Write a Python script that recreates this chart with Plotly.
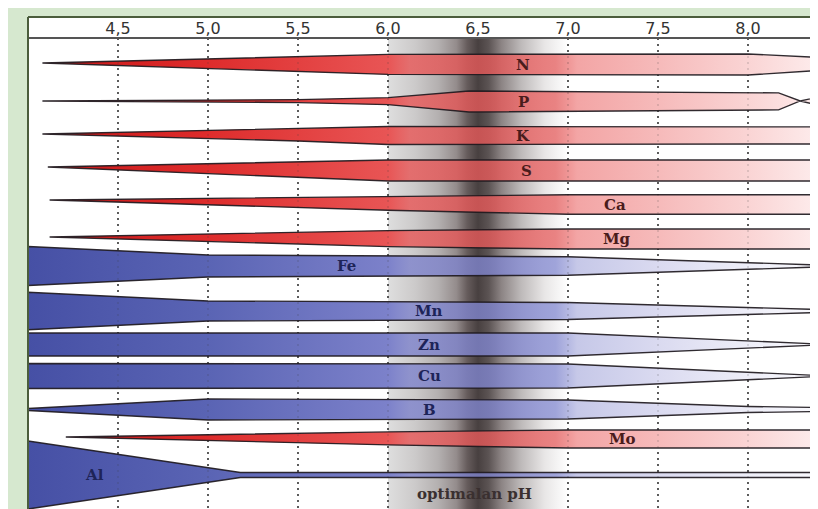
import plotly.graph_objects as go

# ---------------- data ----------------
tick_vals = [4.5, 5.0, 5.5, 6.0, 6.5, 7.0, 7.5, 8.0]
tick_text = ["4,5", "5,0", "5,5", "6,0", "6,5", "7,0", "7,5", "8,0"]
ph_min = 4.0
opt_lo, opt_hi = 6.0, 7.0
opt_label = "optimalan pH"

nutrients = ["N", "P", "K", "S", "Ca", "Mg", "Fe", "Mn", "Zn", "Cu", "B", "Mo", "Al"]
kind = ["red", "red", "red", "red", "red", "red", "blue", "blue", "blue", "blue", "blue", "red", "blue"]

# availability (band thickness) at pH breakpoints
N_ph = [4.08, 6.0, 8.0, 8.39];               N_w = [0, 20, 21, 13]
P_ph = [4.08, 5.5, 6.0, 6.45, 8.17, 8.29, 8.39]; P_w = [0, 3, 7, 21, 17, 0, 8]
K_ph = [4.08, 5.5, 6.0, 8.39];               K_w = [0, 12, 18, 17]
S_ph = [4.11, 6.0, 8.39];                    S_w = [0, 21, 21]
Ca_ph = [4.12, 6.0, 7.0, 8.39];              Ca_w = [0, 14, 19.5, 19.5]
Mg_ph = [4.12, 6.0, 7.0, 8.39];              Mg_w = [0, 16, 20, 20]
Fe_ph = [4.0, 5.0, 7.0, 8.39];               Fe_w = [39, 22, 18.5, 2]
Mn_ph = [4.0, 5.0, 7.0, 8.39];               Mn_w = [37.5, 20, 17, 3]
Zn_ph = [4.0, 7.0, 8.39];                    Zn_w = [23, 23, 1]
Cu_ph = [4.0, 7.0, 8.39];                    Cu_w = [25, 24, 1]
B_ph = [4.0, 5.0, 7.0, 8.0, 8.39];           B_w = [2, 21, 19, 6, 4]
Mo_ph = [4.21, 6.0, 7.0, 8.39];              Mo_w = [0, 13, 18, 18]
Al_ph = [4.0, 5.18, 8.39];                   Al_w = [68, 5, 5]

profiles_ph = [N_ph, P_ph, K_ph, S_ph, Ca_ph, Mg_ph, Fe_ph, Mn_ph, Zn_ph, Cu_ph, B_ph, Mo_ph, Al_ph]
profiles_w = [N_w, P_w, K_w, S_w, Ca_w, Mg_w, Fe_w, Mn_w, Zn_w, Cu_w, B_w, Mo_w, Al_w]

# ---------------- layout (positions / styles) ----------------
OFF = 8                         # page body margin compensation
W, H = 818 + OFF, 509 + OFF
PX_PER_PH = 180.0
TOP = 38                        # plot area in y units (pixels of the final picture)
plot_w = W - (28 - OFF)
plot_h = H - (TOP - OFF)
BOTTOM = TOP + plot_h
ph_max = ph_min + plot_w / PX_PER_PH
ph_edge = 8.39                  # right edge of the original picture
row_y = [64.5, 101.5, 135.5, 170.5, 204.5, 239, 266, 311, 344.5, 376, 409.5, 439, 475]
tip_y = [63, 101, 134, 167, 200, 237, 266, 311, 344.5, 376, 409.5, 437, 475]
label_ph = [6.75, 6.75, 6.75, 6.77, 7.26, 7.27, 5.77, 6.23, 6.23, 6.23, 6.23, 7.30, 4.37]


def pos(p):
    return min(1.0, (p - ph_min) / (ph_edge - ph_min))


def scale(stops):
    return [[pos(p), c] for p, c in stops]


red_scale = scale([
    (4.0, "rgba(150,20,20,1)"), (4.3, "rgba(205,28,28,1)"), (5.0, "rgba(222,44,44,1)"),
    (6.0, "rgba(232,85,85,1)"), (6.12, "rgba(232,86,86,0.8)"), (6.6, "rgba(230,90,90,0.8)"),
    (6.93, "rgba(232,118,118,0.9)"), (7.05, "rgba(243,165,165,1)"), (7.5, "rgba(246,186,186,1)"),
    (8.0, "rgba(250,212,212,1)"), (8.39, "rgba(253,236,236,1)")])
blue_scale = scale([
    (4.0, "rgba(70,80,165,1)"), (5.0, "rgba(90,100,180,1)"), (6.0, "rgba(124,129,202,1)"),
    (6.12, "rgba(126,131,204,0.8)"), (6.6, "rgba(128,133,206,0.8)"), (6.93, "rgba(150,155,215,0.9)"),
    (7.05, "rgba(198,200,232,1)"), (7.5, "rgba(218,218,240,1)"), (8.0, "rgba(238,238,248,1)"),
    (8.39, "rgba(250,250,254,1)")])
gray_scale = [
    [0.0, "rgb(222,222,222)"], [0.15, "rgb(204,202,202)"], [0.28, "rgb(180,176,176)"],
    [0.38, "rgb(148,140,140)"], [0.44, "rgb(102,92,92)"], [0.5, "rgb(72,64,64)"],
    [0.56, "rgb(92,84,84)"], [0.63, "rgb(140,132,132)"], [0.74, "rgb(190,186,186)"],
    [0.87, "rgb(232,230,230)"], [1.0, "rgb(255,255,255)"]]

fig = go.Figure()

# optimal pH band
fig.add_trace(go.Scatter(
    x=[opt_lo, opt_hi, opt_hi, opt_lo, opt_lo], y=[TOP, TOP, BOTTOM, BOTTOM, TOP],
    mode="lines", fill="toself", line=dict(width=0),
    fillgradient=dict(type="horizontal", colorscale=gray_scale, start=opt_lo, stop=opt_hi),
    hoverinfo="skip", showlegend=False))

# dotted grid lines
grid_ticks = [t for t in tick_vals if not (opt_lo < t < opt_hi)]


def add_grid(opacity):
    for t in grid_ticks:
        fig.add_trace(go.Scatter(
            x=[t, t], y=[TOP, BOTTOM], mode="lines", opacity=opacity,
            line=dict(color="#3a3a3a", width=1.6, dash="2px,4px"),
            hoverinfo="skip", showlegend=False))


add_grid(1.0)

# nutrient bands (last width held beyond the picture's right edge)
for name, k, cy, ty, ph, w in zip(nutrients, kind, row_y, tip_y, profiles_ph, profiles_w):
    phx = list(ph) + [ph_max + 0.2]
    wx = list(w) + [w[-1]]
    wmax = max(wx)
    mids = [ty + (cy - ty) * min(1.0, v / wmax) for v in wx]
    xs = phx + phx[::-1] + [phx[0]]
    ys = ([m - v / 2 for m, v in zip(mids, wx)]
          + [m + v / 2 for m, v in zip(mids[::-1], wx[::-1])]
          + [mids[0] - wx[0] / 2])
    fig.add_trace(go.Scatter(
        x=xs, y=ys, mode="lines", fill="toself",
        line=dict(color="rgba(30,25,30,0.92)", width=1.35),
        fillgradient=dict(type="horizontal",
                          colorscale=red_scale if k == "red" else blue_scale,
                          start=ph_min, stop=ph_edge),
        hoverinfo="skip", showlegend=False))

add_grid(0.18)

annotations = []
for name, k, cy, lx in zip(nutrients, kind, row_y, label_ph):
    annotations.append(dict(
        x=lx, y=cy, xref="x", yref="y", text=name, showarrow=False,
        font=dict(family="DejaVu Serif", size=15, weight="bold",
                  color="#4a1c1c" if k == "red" else "#1e2458")))
annotations.append(dict(
    x=(opt_lo + opt_hi) / 2 - 0.02, y=494, xref="x", yref="y", text=opt_label, showarrow=False,
    font=dict(family="DejaVu Serif", size=15, weight="bold", color="#3a3030")))

hdr_top = 1 + (TOP - 17) / plot_h
shapes = [
    dict(type="rect", xref="paper", yref="paper", x0=0, x1=1, y0=1, y1=hdr_top,
         fillcolor="white", line=dict(width=0), layer="below"),
    dict(type="line", xref="paper", yref="paper", x0=0, x1=1, y0=1, y1=1,
         line=dict(color="#555555", width=2), layer="above"),
    dict(type="line", xref="paper", yref="paper", x0=0, x1=1, y0=hdr_top, y1=hdr_top,
         line=dict(color="#4b5d3c", width=2), layer="above"),
    dict(type="line", xref="paper", yref="paper", x0=0, x1=0, y0=0, y1=hdr_top,
         line=dict(color="#4b5d3c", width=2), layer="above"),
]

fig.update_layout(
    width=W, height=H, margin=dict(l=28 - OFF, r=0, t=TOP - OFF, b=0),
    paper_bgcolor="#d6e8cf", plot_bgcolor="white",
    xaxis=dict(range=[ph_min, ph_max], side="top", tickvals=tick_vals, ticktext=tick_text,
               showgrid=False, zeroline=False, showline=False, ticks="",
               tickfont=dict(family="DejaVu Sans", size=16, color="#333333"), fixedrange=True),
    yaxis=dict(range=[BOTTOM, TOP], visible=False, fixedrange=True),
    annotations=annotations, shapes=shapes, showlegend=False)

fig.write_html("out.html")
